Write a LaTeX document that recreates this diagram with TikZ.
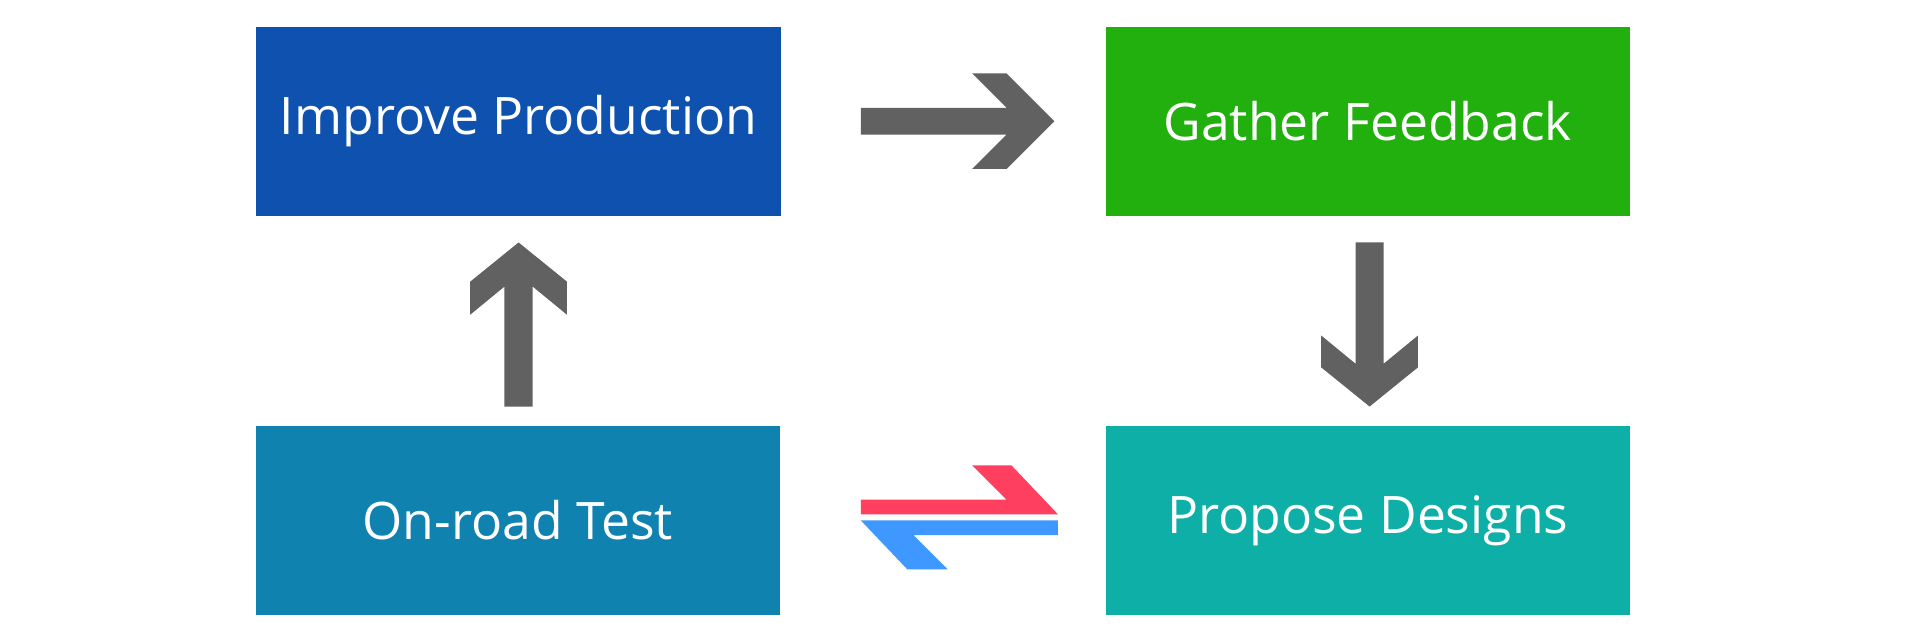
\documentclass[tikz,border=0pt]{standalone}
\usepackage{fontspec}
\setmainfont{Open Sans}
\definecolor{stepblue}{HTML}{0E51AF}
\definecolor{stepgreen}{HTML}{22B00E}
\definecolor{stepsea}{HTML}{0F82B0}
\definecolor{stepteal}{HTML}{0EAFA6}
\definecolor{fatgray}{HTML}{616161}
\definecolor{swapred}{HTML}{FF3F5F}
\definecolor{swapblue}{HTML}{3F98FF}
\tikzset{
  stage/.style={rectangle, minimum width=4.28cm, minimum height=1.54cm, inner sep=0pt,
    text=white, font=\fontsize{12}{14}\selectfont},
  fat/.style={fill=fatgray, draw=none}
}
\begin{document}
\begin{tikzpicture}[x=0.01cm, y=-0.01cm]
	 \useasboundingbox[fill=white] (0,0) rectangle (1568,520);
	 \node[stage, fill=stepblue] (improve) at (423.5,99) {Improve Production};
	 \node[stage, fill=stepgreen] (gather) at (1117,99) {Gather Feedback};
	 \node[stage, fill=stepsea] (onroad) at (423,425) {On-road Test};
	 \node[stage, fill=stepteal] (propose) at (1117,425) {Propose Designs};
	 %
	 \fill[fat] (703,88) -- (822,88) -- (794,60) -- (822,60) -- (861,99) -- (822,138)
	 	-- (794,138) -- (822,110) -- (703,110) -- cycle;
	 \fill[fat] (1107,198) -- (1130,198) -- (1130,297) -- (1158,274) -- (1158,300)
	 	-- (1118.5,332) -- (1079,300) -- (1079,274) -- (1107,297) -- cycle;
	 \fill[fat] (412,332) -- (435,332) -- (435,234) -- (463,257) -- (463,230)
	 	-- (423.5,198) -- (384,230) -- (384,257) -- (412,234) -- cycle;
	 %
	 \fill[swapred] (703,408) -- (822,408) -- (794,380) -- (826,380) -- (864,420) -- (703,420) -- cycle;
	 \fill[swapblue] (864,425) -- (864,437) -- (746,437) -- (774,465) -- (741,465) -- (703,425) -- cycle;
\end{tikzpicture}
\end{document}
